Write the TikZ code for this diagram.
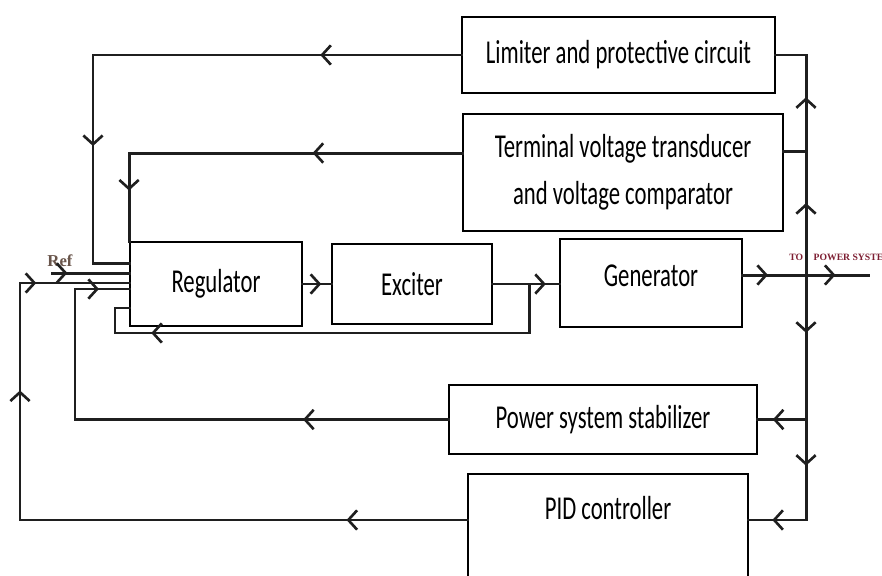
\documentclass[tikz,border=0pt]{standalone}
\usepackage{fontspec}
\usetikzlibrary{arrows.meta,decorations.markings}
\newfontfamily\blk[FakeStretch=0.68]{Carlito}
\newfontfamily\serifb{Liberation Serif}
\definecolor{refcol}{RGB}{105,85,75}
\definecolor{tocol}{RGB}{125,30,50}

\tikzset{
  blocco/.style={draw, line width=1.1pt, inner sep=0pt, font=\blk\fontsize{19}{27}\selectfont},
  linea/.style={line width=1.7pt, line cap=rect, color=black!88},
  freccia/.style={postaction={decorate, decoration={markings,
      mark=at position #1 with {\arrow[line width=1.5pt]{Straight Barb[length=5pt,width=11pt]}}}}},
}

\begin{document}
\begin{tikzpicture}[x=0.02cm, y=-0.02cm]
    \clip (0,0) rectangle (882,575);

    % blocchi
    \node[blocco, minimum width=6.26cm, minimum height=1.52cm] (lim) at (618.5,55) {Limiter and protective circuit};
    \node[blocco, minimum width=6.4cm, minimum height=2.34cm, align=center] (term) at (623,172.5) {Terminal voltage transducer\\and voltage comparator};
    \node[blocco, minimum width=3.44cm, minimum height=1.68cm] (reg) at (216,284) {Regulator};
    \node[blocco, minimum width=3.2cm, minimum height=1.6cm] (exc) at (412,284) {Exciter};
    \node[blocco, minimum width=3.64cm, text height=0.94cm, text depth=0.82cm] (gen) at (651,283) {Generator};
    \node[blocco, minimum width=6.16cm, minimum height=1.38cm] (pss) at (603,419.5) {Power system stabilizer};
    \node[blocco, minimum width=5.6cm, text height=0.92cm, text depth=2.5cm, anchor=north] (pid) at (608,473) {PID controller};

    % etichette
    \node[font=\serifb\bfseries\fontsize{9.5}{10}\selectfont, text=refcol, inner sep=0pt] (ref) at (60,261) {Ref};
    \node[font=\serifb\bfseries\fontsize{5.5}{6}\selectfont, text=tocol, inner sep=0pt, anchor=west] (tops) at (789,257) {TO\hspace{6pt}POWER SYSTEM};

    % punti di collegamento
    \coordinate (bus) at (806,0);
    \coordinate (out) at (868,0);
    \coordinate (xLim) at (93,0);
    \coordinate (xPss) at (75,0);
    \coordinate (xPid) at (20,0);
    \coordinate (xFb) at (115,0);
    \coordinate (xBr) at (529,0);
    \coordinate (refS) at (52,0);
    \coordinate (yFb) at (0,333);
    \coordinate (tW) at ([yshift=0.39cm]term.west);
    \coordinate (tE) at ([yshift=0.43cm]term.east);
    \coordinate (gE) at ([yshift=0.16cm]gen.east);
    \coordinate (pW) at ([yshift=-0.94cm]pid.north west);
    \coordinate (pE) at ([yshift=-0.94cm]pid.north east);
    \coordinate (inLim) at ([yshift=0.42cm]reg.west);
    \coordinate (inRef) at ([yshift=0.22cm]reg.west);
    \coordinate (inPid) at ([yshift=0.02cm]reg.west);
    \coordinate (inPss) at ([yshift=-0.1cm]reg.west);
    \coordinate (inFb) at ([yshift=-0.48cm]reg.west);

    % catena diretta
    \draw[linea, freccia=0.2] (refS |- inRef) -- (inRef);
    \draw[linea, freccia=0.65] (reg) -- (exc);
    \draw[linea, freccia=0.8] (exc.east) -- (gen.west |- exc.east);
    \draw[linea, freccia=0.2, freccia=0.74] (gE) -- (out |- gE);
    \draw[linea, freccia=0.85] (xBr |- exc.east) -- (xBr |- yFb) -| (xFb |- inFb) -- (inFb);

    % retroazioni
    \draw[linea, freccia=0.23, freccia=0.75] (lim.west) -| (xLim |- inLim) -- (inLim);
    \draw[linea, freccia=0.355, freccia=0.88] (tW) -| (reg.north west);
    \draw[linea, freccia=0.26, freccia=0.946] (pss.west) -| (xPss |- inPss) -- (inPss);
    \draw[linea, freccia=0.152, freccia=0.727, freccia=0.883] (pW) -| (xPid |- inPid) -- (inPid);

    % linea verticale
    \draw[linea] (lim.east) -- (lim.east -| bus);
    \draw[linea] (tE) -- (tE -| bus);
    \draw[linea, freccia=0.58] (gE -| bus) -- (tE -| bus);
    \draw[linea, freccia=0.56] (tE -| bus) -- (lim.east -| bus);
    \draw[linea, freccia=0.4] (gE -| bus) -- (pss.east -| bus);
    \draw[linea, freccia=0.46] (pss.east -| bus) -- (pE -| bus);
    \draw[linea, freccia=0.69] (pss.east -| bus) -- (pss.east);
    \draw[linea, freccia=0.59] (pE -| bus) -- (pE);

\end{tikzpicture}
\end{document}
